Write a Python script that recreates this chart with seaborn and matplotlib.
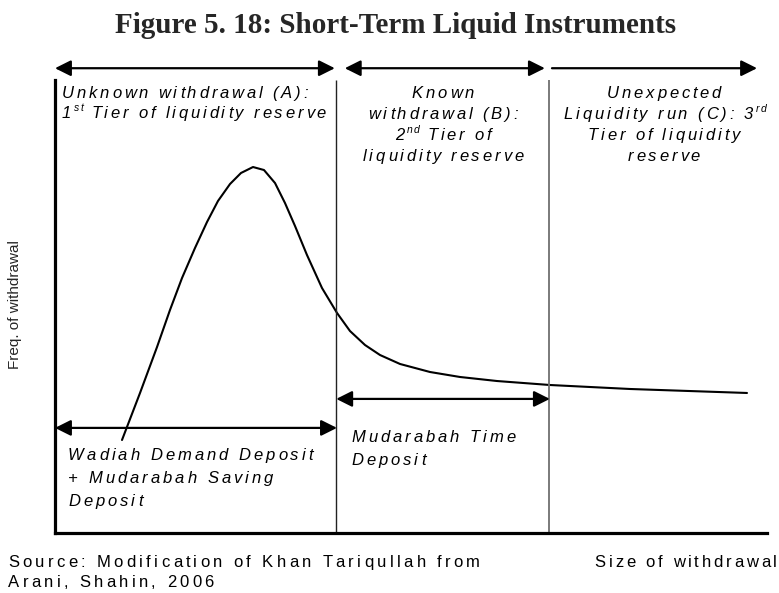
import re
import matplotlib
matplotlib.use("Agg")
import pandas as pd
import seaborn as sns
import matplotlib.pyplot as plt

# curve (size of withdrawal vs frequency, arbitrary units)
size_x = [0.941, 1.194, 1.433, 1.615, 1.784, 1.966, 2.135, 2.289, 2.458, 2.612,
          2.781, 2.935, 3.090, 3.230, 3.371, 3.539, 3.750, 3.961, 4.143, 4.354,
          4.565, 4.846, 5.267, 5.688, 6.208, 6.952, 8.076, 9.719]
freq_y = [2.053, 3.091, 4.106, 4.923, 5.629, 6.291, 6.865, 7.329, 7.704, 7.947,
          8.079, 8.013, 7.726, 7.285, 6.777, 6.137, 5.408, 4.857, 4.459, 4.150,
          3.929, 3.731, 3.554, 3.444, 3.355, 3.267, 3.179, 3.091]

# tier boundaries on the size axis
boundaries = [3.95, 6.94]
top_spans = [(0.0, 3.93, "<|-|>"), (4.07, 6.88, "<|-|>"), (6.98, 9.86, "-|>")]
bottom_spans = [(0.0, 3.96, 2.32), (3.95, 6.95, 2.96)]

title = "Figure 5. 18: Short-Term Liquid Instruments"
tier_a = ["Unknown withdrawal (A):", "1^{st} Tier of liquidity reserve"]
tier_b = ["Known", "withdrawal (B):", "2^{nd} Tier of", "liquidity reserve"]
tier_c = ["Unexpected", "Liquidity run (C): 3^{rd}", "Tier of liquidity", "reserve"]
deposit_a = ["Wadiah Demand Deposit", "+ Mudarabah Saving", "Deposit"]
deposit_b = ["Mudarabah Time", "Deposit"]
source = ["Source: Modification of Khan Tariqullah from", "Arani, Shahin, 2006"]
x_label = "Size of withdrawal"
y_label = "Freq. of withdrawal"

sns.set_theme(style="white")
plt.rcParams["font.family"] = ["Liberation Sans", "DejaVu Sans"]

W, H = 779, 593
fig = plt.figure(figsize=(W / 100, H / 100), dpi=100)
ax = fig.add_axes([55 / W, (H - 533) / H, 712 / W, (533 - 60) / H])

df = pd.DataFrame({"size": size_x, "freq": freq_y})
sns.lineplot(data=df, x="size", y="freq", color="black", linewidth=1.5,
             estimator=None, sort=False, ax=ax)

ax.vlines(boundaries[0], 0, 10, color="#222222", linewidth=1.0)
ax.vlines(boundaries[1], 0, 10, color="#707070", linewidth=1.3)

ax.set_xlim(0, 10)
ax.set_ylim(0, (533 - 60) / 45.3)
ax.set_xticks([])
ax.set_yticks([])
ax.set_xlabel("")
ax.set_ylabel("")
for s in ["top", "right"]:
    ax.spines[s].set_visible(False)
for s in ["left", "bottom"]:
    ax.spines[s].set_color("black")
    ax.spines[s].set_linewidth(2.3)
ax.spines["left"].set_bounds(0, 10)


def arrow(x0, x1, y, style):
    ax.annotate("", xy=(x1, y), xytext=(x0, y),
                arrowprops=dict(arrowstyle=style + ",head_length=0.8,head_width=0.4",
                                color="black", lw=1.6, shrinkA=0, shrinkB=0))


for x0, x1, st in top_spans:
    arrow(x0, x1, 10.26, st)
for x0, x1, y in bottom_spans:
    arrow(x0, x1, y, "<|-|>")

# --- letter-spaced text (the original has wide tracking) ---
renderer = fig.canvas.get_renderer()
_cache = {}


def ink_width(s, size, style):
    key = (s, size, style)
    if key not in _cache:
        t = fig.text(0, 0, s, fontsize=size, style=style)
        _cache[key] = t.get_window_extent(renderer).width
        t.remove()
    return _cache[key]


def advance(c, size, style):
    return ink_width("x" + c + "x", size, style) - ink_width("xx", size, style)


def segments(s):
    out = []
    for part in re.split(r"(\^\{[^}]*\})", s):
        if part.startswith("^{"):
            out.append((part[2:-1], True))
        elif part:
            out.append((part, False))
    return out


def tracked(x, y, s, ha="left", size=12, style="italic", track=2.8):
    # x, y in pixels from top-left; y is the baseline
    items = []
    for seg, sup in segments(s):
        sz = size * 0.62 if sup else size
        tr = track * 0.3 if sup else track
        for c in seg:
            items.append((c, sz, sup, advance(c, sz, style) + tr))
    total = sum(i[3] for i in items) - track
    if ha == "center":
        x -= total / 2
    elif ha == "right":
        x -= total
    for c, sz, sup, w in items:
        dy = size * 0.55 if sup else 0
        fig.text(x / W, 1 - (y - dy) / H, c, fontsize=sz, style=style,
                 ha="left", va="baseline", color="black")
        x += w


for i, t in enumerate(tier_a):
    tracked(62, 98 + 20 * i, t)
for i, t in enumerate(tier_b):
    tracked(443, 98 + 21 * i, t, ha="center")
for i, t in enumerate(tier_c):
    tracked(664, 98 + 21 * i, t, ha="center")
for i, t in enumerate(deposit_a):
    tracked(68, 460 + 23 * i, t, track=3.0)
for i, t in enumerate(deposit_b):
    tracked(351, 442 + 23 * i, t, track=3.0)
for i, t in enumerate(source):
    tracked(8, 567 + 20 * i, t, style="normal", track=3.3)
tracked(777, 567, x_label, ha="right", style="normal", track=2.8)

fig.text(396 / W, 1 - 33 / H, title, ha="center", va="baseline",
         fontsize=21, fontweight="bold", family="Liberation Serif")
fig.text(15 / W, 1 - 305 / H, y_label, rotation=90,
         ha="center", va="center", fontsize=11)

fig.savefig("out.png", dpi=100)
